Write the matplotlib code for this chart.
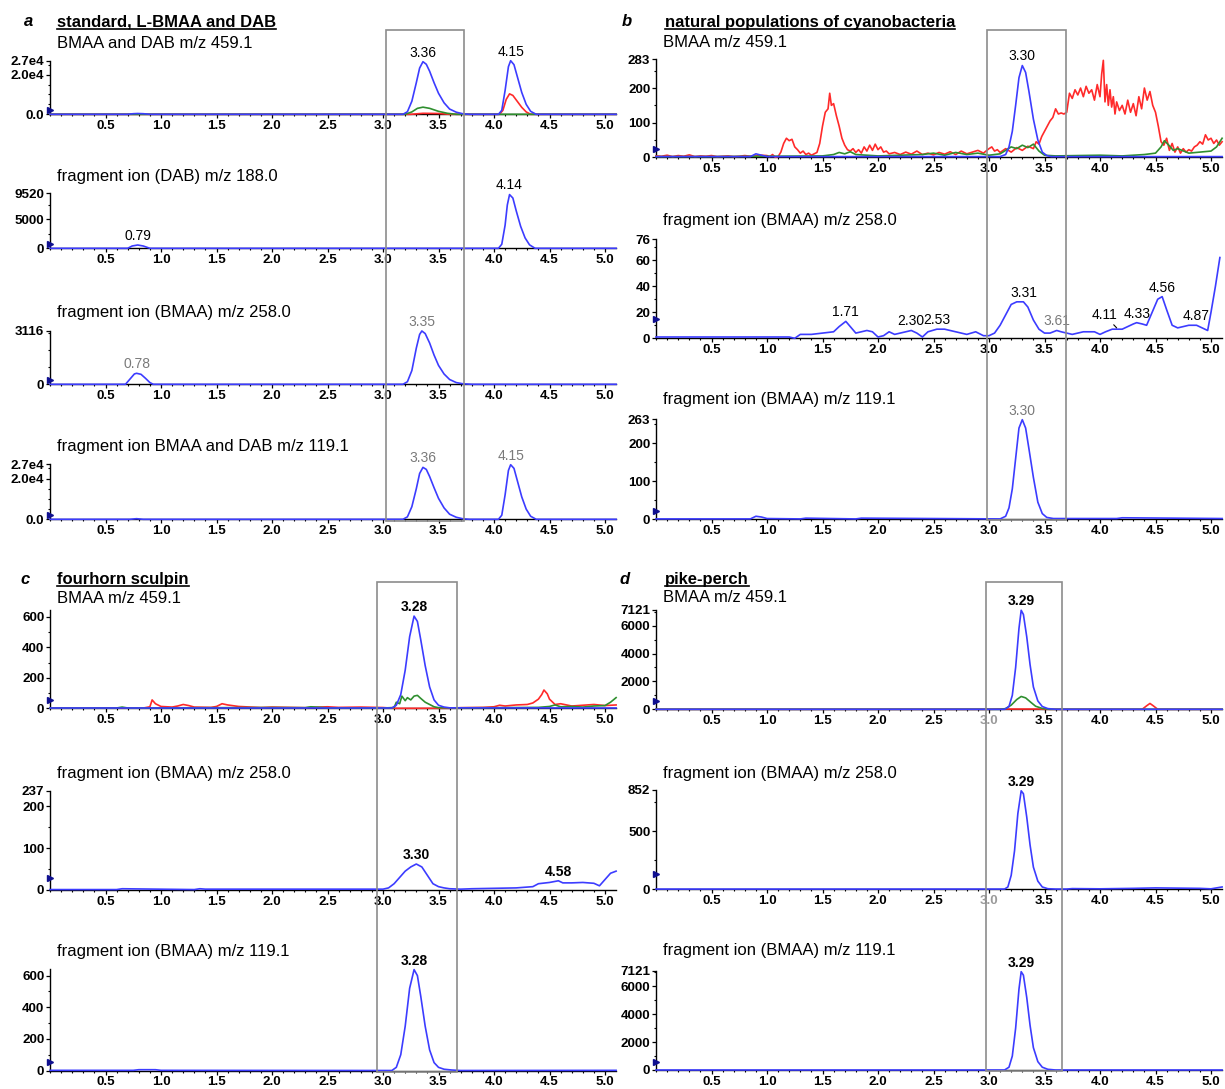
import numpy as np
import matplotlib.pyplot as plt
import matplotlib.transforms as mtransforms
from matplotlib.patches import Rectangle
from matplotlib.lines import Line2D

plt.rcParams['font.family'] = ['Liberation Sans', 'DejaVu Sans']

BLUE = '#3c3cff'
RED = '#ff2a2a'
GREEN = '#2f8f2f'
GREY = '#7a7a7a'
TICKFONT = dict(family=['Liberation Sans Narrow', 'Liberation Sans'], weight='bold', size=9.6)

# ---------------- data (retention time in min, intensity) ----------------
# panel a : standard, L-BMAA and DAB
a1_blue_t = [0, 0.70, 0.75, 0.79, 0.84, 0.90, 3.18, 3.22, 3.26, 3.30, 3.33, 3.36, 3.39, 3.42, 3.46, 3.50,
             3.55, 3.60, 3.66, 3.72, 3.78, 4.04, 4.07, 4.10, 4.13, 4.15, 4.18, 4.21, 4.25, 4.29, 4.33, 4.38, 5.1]
a1_blue_y = [0, 0, 300, 400, 300, 0, 0, 1300, 6600, 15900, 23300, 26500, 25200, 21700, 15900, 10600,
             5800, 2650, 1060, 265, 0, 0, 2000, 12000, 24000, 27000, 25000, 19000, 11000, 5000, 1500, 0, 0]
a1_red_t = [0, 3.25, 3.36, 3.50, 3.60, 4.05, 4.08, 4.11, 4.14, 4.17, 4.21, 4.25, 4.29, 4.33, 5.1]
a1_red_y = [0, 0, 500, 400, 0, 0, 2000, 7500, 10300, 9500, 6500, 3500, 1200, 0, 0]
a1_green_t = [0, 3.20, 3.26, 3.31, 3.36, 3.42, 3.50, 3.58, 3.66, 5.1]
a1_green_y = [0, 0, 1200, 3000, 3600, 3000, 1500, 500, 0, 0]

a2_blue_t = [0, 0.70, 0.74, 0.79, 0.84, 0.90, 4.04, 4.07, 4.10, 4.12, 4.14, 4.17, 4.20, 4.24, 4.28, 4.32, 4.37, 5.1]
a2_blue_y = [0, 0, 400, 570, 400, 0, 0, 700, 4000, 7500, 9300, 8700, 6500, 3800, 1800, 600, 0, 0]

a3_blue_t = [0, 0.68, 0.72, 0.76, 0.78, 0.82, 0.86, 0.90, 0.93, 3.18, 3.22, 3.26, 3.30, 3.33, 3.35, 3.38,
             3.42, 3.46, 3.50, 3.55, 3.60, 3.66, 3.72, 3.80, 5.1]
a3_blue_y = [0, 0, 300, 600, 640, 580, 350, 100, 0, 0, 150, 800, 2100, 2900, 3100, 2950,
             2400, 1700, 1100, 600, 280, 100, 30, 0, 0]

a4_blue_t = [0, 0.72, 0.78, 0.84, 3.18, 3.22, 3.26, 3.30, 3.33, 3.36, 3.39, 3.42, 3.46, 3.50, 3.55, 3.60,
             3.66, 3.72, 3.78, 4.04, 4.07, 4.10, 4.13, 4.15, 4.18, 4.21, 4.25, 4.29, 4.33, 4.38, 5.1]
a4_blue_y = [0, 0, 300, 0, 0, 1200, 6200, 15000, 22500, 25500, 24500, 21000, 15500, 10300, 5600, 2500,
             1000, 250, 0, 0, 2000, 12000, 24000, 26800, 25000, 19000, 11000, 5000, 1500, 0, 0]

# panel b : natural populations of cyanobacteria
b1_blue_t = [0, 0.85, 0.90, 0.95, 1.0, 3.10, 3.15, 3.18, 3.21, 3.24, 3.27, 3.30, 3.33, 3.36, 3.40, 3.44,
             3.48, 3.52, 3.56, 5.1]
b1_blue_y = [2, 2, 10, 6, 2, 2, 8, 30, 75, 150, 230, 265, 245, 190, 110, 50, 15, 5, 2, 2]
b1_red_t = [0.00, 0.05, 0.10, 0.15, 0.20, 0.25, 0.30, 0.35, 0.40, 0.45, 0.50, 0.55, 0.60, 0.65, 0.70, 0.75,
            0.80, 0.85, 0.90, 0.95, 1.000, 1.025, 1.050, 1.075, 1.100, 1.125, 1.150, 1.175, 1.200, 1.225,
            1.250, 1.275, 1.300, 1.325, 1.350, 1.375, 1.400, 1.425, 1.450, 1.475, 1.500, 1.525, 1.550,
            1.565, 1.580, 1.600, 1.625, 1.650, 1.675, 1.700, 1.725, 1.750, 1.775, 1.800, 1.825, 1.850,
            1.875, 1.900, 1.925, 1.950, 1.975, 2.000, 2.025, 2.050, 2.075, 2.10, 2.15, 2.20, 2.25, 2.30,
            2.35, 2.40, 2.45, 2.50, 2.55, 2.60, 2.65, 2.70, 2.75, 2.80, 2.85, 2.90, 2.95, 3.000, 3.025,
            3.050, 3.075, 3.10, 3.15, 3.20, 3.25, 3.30, 3.35, 3.400, 3.425, 3.450, 3.475, 3.500, 3.525,
            3.550, 3.575, 3.600, 3.625, 3.650, 3.675, 3.700, 3.725, 3.750, 3.775, 3.800, 3.825, 3.850,
            3.875, 3.900, 3.925, 3.950, 3.975, 4.000, 4.015, 4.030, 4.045, 4.060, 4.075, 4.090, 4.105,
            4.120, 4.135, 4.150, 4.175, 4.200, 4.225, 4.250, 4.275, 4.300, 4.325, 4.350, 4.375, 4.400,
            4.425, 4.450, 4.475, 4.500, 4.525, 4.550, 4.575, 4.600, 4.625, 4.650, 4.675, 4.700, 4.725,
            4.750, 4.775, 4.800, 4.825, 4.850, 4.875, 4.900, 4.925, 4.950, 4.975, 5.000, 5.025, 5.050,
            5.075, 5.100]
b1_red_y = [4, 3, 6, 2, 5, 3, 7, 2, 4, 3, 5, 2, 3, 4, 2, 3,
            5, 3, 4, 6, 5, 2, 8, 0, 2, 15, 40, 55, 48, 52,
            30, 22, 12, 18, 8, 12, 6, 10, 14, 40, 90, 130, 140,
            185, 150, 155, 120, 90, 55, 35, 22, 18, 25, 14, 22, 12,
            30, 18, 35, 20, 38, 22, 30, 15, 18, 10, 14, 8, 15, 9,
            18, 8, 12, 7, 14, 9, 16, 8, 18, 10, 15, 20, 12, 25, 30,
            18, 22, 14, 25, 15, 28, 20, 32, 25, 45, 38, 60, 75, 90,
            105, 115, 140, 125, 128, 125, 130, 185, 170, 195, 180, 200, 175,
            205, 185, 195, 165, 210, 175, 240, 280, 160, 210, 150, 195, 145,
            175, 125, 160, 135, 150, 125, 165, 130, 155, 120, 175, 140, 200,
            165, 190, 150, 130, 90, 45, 35, 55, 20, 40, 15, 30, 12,
            25, 15, 22, 18, 30, 35, 45, 38, 65, 50, 55, 40, 50,
            35, 45]
b1_green_t = [0, 0.5, 1.0, 1.5, 1.6, 1.65, 1.7, 1.75, 1.8, 1.9, 2.0, 2.2, 2.4, 2.5, 2.6, 2.7, 2.8, 2.9,
              3.0, 3.1, 3.15, 3.2, 3.25, 3.3, 3.35, 3.4, 3.45, 3.5, 3.6, 3.8, 4.0, 4.2, 4.4, 4.5, 4.55,
              4.58, 4.62, 4.66, 4.7, 4.8, 4.9, 5.0, 5.05, 5.1]
b1_green_y = [2, 2, 3, 4, 8, 14, 10, 16, 8, 6, 4, 6, 8, 12, 6, 14, 8, 12,
              6, 10, 20, 30, 25, 35, 28, 38, 18, 6, 4, 5, 6, 4, 8, 12, 30,
              48, 35, 20, 25, 12, 15, 18, 30, 55]

b2_blue_t = [0, 1.2, 1.25, 1.3, 1.4, 1.5, 1.6, 1.65, 1.71, 1.76, 1.8, 1.85, 1.9, 1.95, 2.0, 2.05, 2.1,
             2.15, 2.2, 2.25, 2.3, 2.35, 2.4, 2.45, 2.53, 2.6, 2.7, 2.8, 2.88, 2.95, 3.0, 3.05, 3.1, 3.15,
             3.2, 3.25, 3.31, 3.35, 3.4, 3.45, 3.5, 3.55, 3.61, 3.65, 3.7, 3.75, 3.8, 3.85, 3.9, 3.95,
             4.0, 4.05, 4.11, 4.15, 4.2, 4.25, 4.3, 4.33, 4.38, 4.42, 4.47, 4.52, 4.56, 4.6, 4.65, 4.7,
             4.75, 4.8, 4.87, 4.92, 4.97, 5.0, 5.04, 5.08]
b2_blue_y = [1, 1, 0, 3, 3, 4, 5, 9, 13, 8, 4, 5, 6, 5, 1, 2, 5,
             3, 4, 5, 6, 4, 1, 5, 7, 7, 5, 3, 5, 2, 2, 4, 10, 18,
             26, 28, 28, 24, 14, 7, 4, 4, 6, 5, 4, 3, 4, 5, 5, 5,
             3, 5, 7, 7, 7, 9, 11, 12, 11, 10, 20, 30, 32, 22, 10, 8,
             9, 10, 10, 8, 6, 20, 40, 62]

b3_blue_t = [0, 0.85, 0.90, 0.95, 1.0, 1.3, 1.35, 1.8, 1.85, 3.10, 3.15, 3.18, 3.21, 3.24, 3.27, 3.30,
             3.33, 3.36, 3.40, 3.44, 3.48, 3.52, 3.58, 4.15, 4.2, 5.1]
b3_blue_y = [1, 1, 8, 6, 2, 1, 3, 1, 3, 1, 8, 30, 80, 160, 240, 262,
             240, 185, 110, 45, 15, 5, 2, 2, 4, 2]

# panel c : fourhorn sculpin
c1_blue_t = [0, 3.08, 3.12, 3.16, 3.20, 3.24, 3.28, 3.31, 3.34, 3.38, 3.42, 3.46, 3.50, 3.55, 3.60, 5.1]
c1_blue_y = [2, 2, 20, 90, 250, 470, 605, 570, 450, 280, 140, 55, 20, 8, 3, 2]
c1_red_t = [0, 0.5, 0.85, 0.90, 0.92, 0.95, 1.0, 1.1, 1.15, 1.2, 1.25, 1.3, 1.45, 1.5, 1.55, 1.6, 1.7,
            1.9, 2.0, 2.3, 2.5, 2.6, 2.8, 3.0, 3.1, 3.6, 3.7, 3.9, 4.0, 4.05, 4.1, 4.2, 4.3, 4.35, 4.4,
            4.43, 4.45, 4.48, 4.5, 4.55, 4.6, 4.7, 4.8, 4.9, 5.0, 5.1]
c1_red_y = [3, 3, 3, 10, 55, 30, 12, 8, 15, 25, 18, 8, 6, 12, 30, 22, 12,
            5, 8, 4, 10, 6, 8, 5, 0, 0, 4, 6, 10, 20, 15, 22, 25, 35, 60,
            90, 120, 95, 60, 25, 30, 15, 20, 25, 18, 22]
c1_green_t = [0, 0.6, 0.65, 0.7, 1.0, 1.5, 2.0, 2.3, 2.35, 2.5, 3.0, 3.1, 3.12, 3.15, 3.17, 3.2, 3.22,
              3.25, 3.28, 3.31, 3.34, 3.38, 3.42, 3.46, 3.5, 3.6, 4.0, 4.4, 4.5, 4.55, 4.6, 4.7, 4.8,
              4.9, 5.0, 5.05, 5.1]
c1_green_y = [2, 2, 8, 2, 3, 4, 5, 4, 10, 3, 2, 5, 40, 30, 80, 50, 70,
              55, 80, 85, 65, 40, 25, 10, 4, 3, 4, 6, 12, 22, 10, 12, 8,
              15, 18, 40, 70]

c2_blue_t = [0, 0.6, 0.65, 1.3, 1.35, 1.4, 2.0, 2.9, 3.0, 3.05, 3.1, 3.15, 3.2, 3.25, 3.3, 3.35, 3.4,
             3.45, 3.5, 3.55, 3.6, 3.7, 3.8, 4.2, 4.35, 4.4, 4.5, 4.58, 4.62, 4.7, 4.8, 4.9, 4.95, 5.0,
             5.05, 5.1]
c2_blue_y = [1, 1, 3, 1, 3, 2, 2, 2, 2, 5, 15, 30, 45, 55, 62, 55, 35,
             15, 8, 5, 3, 2, 3, 5, 8, 15, 18, 22, 17, 17, 18, 16, 10, 25,
             40, 45]

c3_blue_t = [0, 0.75, 0.8, 0.95, 1.0, 3.08, 3.12, 3.16, 3.20, 3.24, 3.28, 3.31, 3.34, 3.38, 3.42, 3.46,
             3.50, 3.55, 3.62, 3.70, 5.1]
c3_blue_y = [1, 1, 5, 5, 1, 0, 20, 100, 280, 520, 638, 600, 470, 280, 130, 50,
             20, 8, 3, 0, 1]

# panel d : pike-perch
d1_blue_t = [0, 3.14, 3.18, 3.21, 3.24, 3.27, 3.29, 3.31, 3.34, 3.37, 3.40, 3.44, 3.48, 3.53, 3.60, 5.1]
d1_blue_y = [0, 0, 200, 1000, 3000, 5800, 7100, 6800, 5200, 3200, 1600, 600, 200, 50, 0, 0]
d1_red_t = [0, 3.0, 3.1, 3.45, 3.5, 4.38, 4.42, 4.45, 4.48, 4.52, 5.1]
d1_red_y = [0, 0, 20, 20, 0, 0, 250, 420, 250, 0, 0]
d1_green_t = [0, 3.10, 3.15, 3.20, 3.25, 3.29, 3.33, 3.38, 3.42, 3.48, 3.55, 5.1]
d1_green_y = [0, 0, 50, 300, 700, 920, 820, 480, 220, 60, 0, 0]

d2_blue_t = [0, 3.14, 3.17, 3.20, 3.23, 3.26, 3.29, 3.31, 3.34, 3.37, 3.40, 3.44, 3.48, 3.53, 3.60,
             3.70, 3.75, 4.0, 4.3, 4.5, 4.7, 4.9, 5.0, 5.1]
d2_blue_y = [2, 2, 20, 120, 330, 650, 845, 820, 620, 380, 190, 70, 20, 5, 2,
             2, 6, 4, 8, 12, 10, 8, 4, 20]

d3_blue_t = [0, 3.14, 3.18, 3.21, 3.24, 3.27, 3.29, 3.31, 3.34, 3.37, 3.40, 3.44, 3.48, 3.53, 3.60, 5.1]
d3_blue_y = [0, 0, 200, 1000, 3000, 5800, 7050, 6800, 5200, 3200, 1600, 600, 200, 50, 0, 0]

# peak labels (retention times printed on the chromatograms)
a1_peaks = ['3.36', '4.15']
a2_peaks = ['0.79', '4.14']
a3_peaks = ['0.78', '3.35']
a4_peaks = ['3.36', '4.15']
b1_peaks = ['3.30']
b2_peaks = ['1.71', '2.30', '2.53', '3.31', '3.61', '4.33', '4.56', '4.87']
b3_peaks = ['3.30']
c1_peaks = ['3.28']
c2_peaks = ['3.30', '4.58']
c3_peaks = ['3.28']
d1_peaks = ['3.29']
d2_peaks = ['3.29']
d3_peaks = ['3.29']

panel_titles = ['standard, L-BMAA and DAB', 'natural populations of cyanobacteria',
                'fourhorn sculpin', 'pike-perch']
panel_letters = ['a', 'b', 'c', 'd']

# ---------------- layout ----------------
W, H = 1225, 1089
fig = plt.figure(figsize=(W / 100, H / 100), dpi=100)
XMAX = 5.1


def fx(px):
    return px / W


def fy(py):
    return 1 - py / H


def chrom(x0, top, base, ymax, traces, yticks, ylabels, ystep, peaks, name, name_y,
          grey=(), bold=False, tri=0.08):
    x1 = x0 + XMAX * 111
    ax = fig.add_axes([fx(x0), fy(base), (x1 - x0) / W, (base - top) / H])
    for t, y, c in traces:
        ax.plot(t, y, color=c, lw=1.2, clip_on=False, zorder=3)
    ax.set_xlim(0, XMAX)
    ax.set_ylim(0, ymax)
    for s in ['top', 'right']:
        ax.spines[s].set_visible(False)
    for s in ['left', 'bottom']:
        ax.spines[s].set_linewidth(1.0)
    ax.set_xticks(np.arange(0.5, 5.01, 0.5))
    ax.set_xticklabels(['%.1f' % v for v in np.arange(0.5, 5.01, 0.5)], fontdict=TICKFONT)
    ax.set_xticks(np.arange(0, XMAX, 0.1), minor=True)
    ax.set_yticks(yticks)
    ax.set_yticklabels(ylabels, fontdict=TICKFONT)
    ax.set_yticks([v for v in np.arange(ystep, ymax, ystep) if v not in yticks], minor=True)
    ax.tick_params(axis='both', which='major', length=2.6, width=0.9, pad=1.5)
    ax.tick_params(axis='both', which='minor', length=1.6, width=0.8)
    ax.plot([0], [tri * ymax], marker='>', ms=5, color='#101090', clip_on=False, zorder=4)

    # peak retention time labels
    bt, by = np.array(traces[-1][0]), np.array(traces[-1][1])
    for p in peaks:
        t = float(p)
        near = by[np.abs(bt - t) <= 0.035]
        ytop = near.max() if len(near) else 0
        ax.annotate(p, (t, ytop), xytext=(0, 1.5), textcoords='offset points', ha='center',
                    va='bottom', fontsize=10, color=GREY if p in grey else 'black',
                    fontweight='bold' if bold else 'normal', zorder=5)
    fig.text(fx(x0 + 7), fy(name_y), name, fontsize=12, va='center', ha='left')
    return ax


# panel a
ax_a1 = chrom(50, 60.7, 114.3, 27000, [(a1_red_t, a1_red_y, RED), (a1_green_t, a1_green_y, GREEN),
                                       (a1_blue_t, a1_blue_y, BLUE)],
              [0, 20000, 27000], ['0.0', '2.0e4', '2.7e4'], 5000, a1_peaks,
              'BMAA and DAB m/z 459.1', 43.3)
chrom(50, 193.3, 248.3, 9520, [(a2_blue_t, a2_blue_y, BLUE)], [0, 5000, 9520], ['0', '5000', '9520'],
      2500, a2_peaks, 'fragment ion (DAB) m/z 188.0', 176.7)
chrom(50, 330.7, 384.3, 3116, [(a3_blue_t, a3_blue_y, BLUE)], [0, 3116], ['0', '3116'],
      1000, a3_peaks, 'fragment ion (BMAA) m/z 258.0', 312.3, grey=a3_peaks)
ax_a4 = chrom(50, 464.3, 519.3, 27000, [(a4_blue_t, a4_blue_y, BLUE)],
              [0, 20000, 27000], ['0.0', '2.0e4', '2.7e4'], 5000, a4_peaks,
              'fragment ion BMAA and DAB m/z 119.1', 446.7, grey=a4_peaks)

# panel b
ax_b1 = chrom(656, 59.3, 157.3, 283, [(b1_red_t, b1_red_y, RED), (b1_green_t, b1_green_y, GREEN),
                                      (b1_blue_t, b1_blue_y, BLUE)],
              [0, 100, 200, 283], ['0', '100', '200', '283'], 50, b1_peaks, 'BMAA m/z 459.1', 42.7)
ax_b2 = chrom(656, 239.3, 338.3, 76, [(b2_blue_t, b2_blue_y, BLUE)], [0, 20, 40, 60, 76],
              ['0', '20', '40', '60', '76'], 10, b2_peaks, 'fragment ion (BMAA) m/z 258.0', 220,
              grey=['3.61'], tri=0.2)
ax_b2.annotate('4.11', (4.15, 8), xytext=(4.04, 12.5), ha='center', va='bottom', fontsize=10,
               arrowprops=dict(arrowstyle='-', lw=0.8, shrinkA=0, shrinkB=0))
chrom(656, 419.3, 519.3, 263, [(b3_blue_t, b3_blue_y, BLUE)], [0, 100, 200, 263],
      ['0', '100', '200', '263'], 50, b3_peaks, 'fragment ion (BMAA) m/z 119.1', 399.3,
      grey=b3_peaks)

# panel c
ax_c1 = chrom(50, 610, 708.3, 645, [(c1_red_t, c1_red_y, RED), (c1_green_t, c1_green_y, GREEN),
                                    (c1_blue_t, c1_blue_y, BLUE)],
              [0, 200, 400, 600], ['0', '200', '400', '600'], 100, c1_peaks, 'BMAA m/z 459.1', 598.3,
              bold=True)
chrom(50, 790.7, 890, 237, [(c2_blue_t, c2_blue_y, BLUE)], [0, 100, 200, 237],
      ['0', '100', '200', '237'], 50, c2_peaks, 'fragment ion (BMAA) m/z 258.0', 773.3, bold=True,
      tri=0.12)
ax_c3 = chrom(50, 968.5, 1070.5, 645, [(c3_blue_t, c3_blue_y, BLUE)], [0, 200, 400, 600],
              ['0', '200', '400', '600'], 100, c3_peaks, 'fragment ion (BMAA) m/z 119.1', 951.7,
              bold=True)

# panel d
ax_d1 = chrom(656, 610, 709.3, 7121, [(d1_red_t, d1_red_y, RED), (d1_green_t, d1_green_y, GREEN),
                                      (d1_blue_t, d1_blue_y, BLUE)],
              [0, 2000, 4000, 6000, 7121], ['0', '2000', '4000', '6000', '7121'], 1000, d1_peaks,
              'BMAA m/z 459.1', 598, bold=True)
ax_d2 = chrom(656, 790, 889.3, 852, [(d2_blue_t, d2_blue_y, BLUE)], [0, 500, 852], ['0', '500', '852'],
              250, d2_peaks, 'fragment ion (BMAA) m/z 258.0', 773.3, bold=True, tri=0.15)
ax_d3 = chrom(656, 970.7, 1070, 7121, [(d3_blue_t, d3_blue_y, BLUE)], [0, 2000, 4000, 6000, 7121],
              ['0', '2000', '4000', '6000', '7121'], 1000, d3_peaks, 'fragment ion (BMAA) m/z 119.1', 950,
              bold=True)
for ax in (ax_d1, ax_d2):
    ax.get_xticklabels()[5].set_color('#9a9a9a')

# grey boxes marking the BMAA retention window
for ax, (t0, t1), top, bottom in [(ax_a1, (3.03, 3.73), 30, 521), (ax_b1, (2.98, 3.69), 30, 520),
                                  (ax_c1, (2.95, 3.67), 581.5, 1071.5), (ax_d1, (2.97, 3.66), 581.5, 1070.5)]:
    tr = mtransforms.blended_transform_factory(ax.transData, fig.transFigure)
    fig.add_artist(Rectangle((t0, fy(bottom)), t1 - t0, fy(top) - fy(bottom), transform=tr,
                             fill=False, ec='#8c8c8c', lw=1.2, zorder=10))

# panel letters and underlined titles
titles = []
for letter, title, lx, tx, ty in zip(panel_letters, panel_titles, [24, 622, 20, 620], [57, 665, 57, 665],
                                     [26.5, 26.5, 584, 584]):
    fig.text(fx(lx), fy(ty), letter, fontsize=12, fontweight='bold', style='italic', va='baseline')
    titles.append((fig.text(fx(tx), fy(ty), title, fontsize=12, fontweight='bold', va='baseline'), ty))

fig.canvas.draw()
r = fig.canvas.get_renderer()
for txt, ty in titles:
    bb = txt.get_window_extent(r)
    fig.add_artist(Line2D([bb.x0 / W, bb.x1 / W], [fy(ty + 2.2), fy(ty + 2.2)], color='black', lw=1.2))

fig.savefig('out.png', dpi=100)
